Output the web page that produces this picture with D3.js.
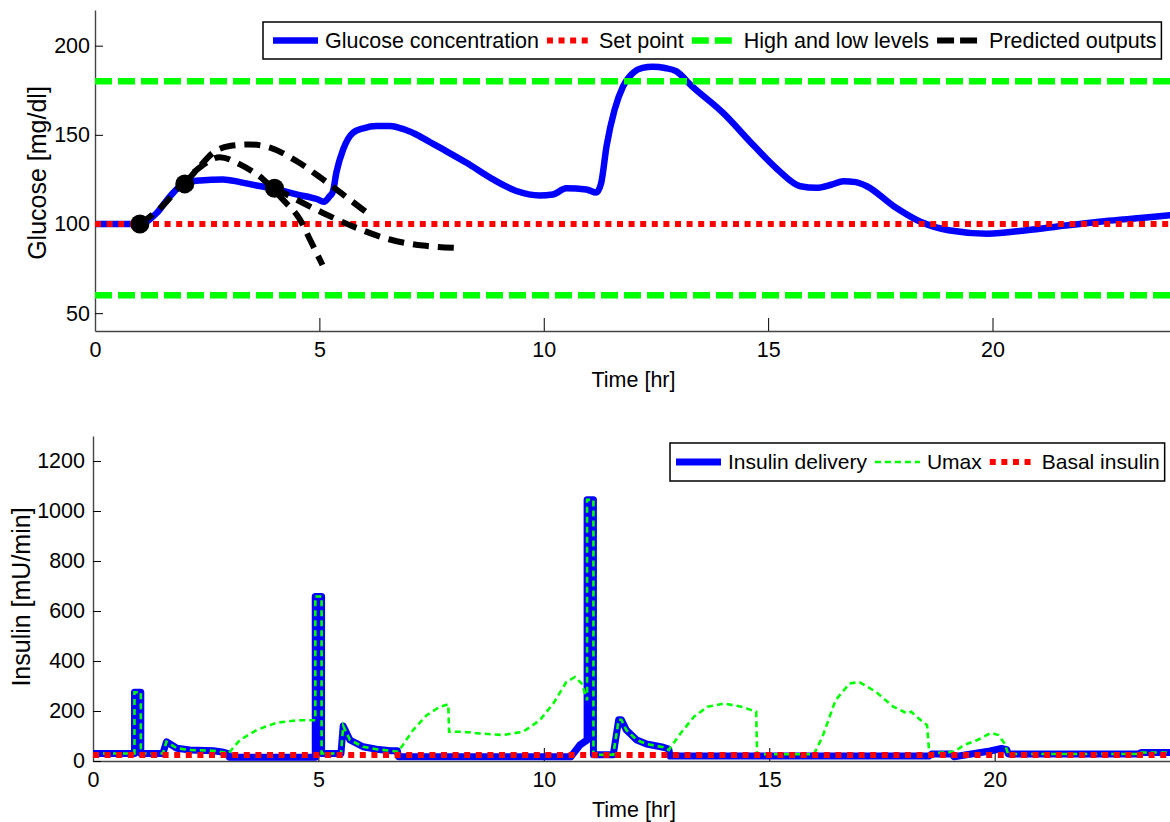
<!DOCTYPE html>
<html>
<head>
<meta charset="utf-8">
<script src="https://cdn.jsdelivr.net/npm/d3@7"></script>
<style>
  body { margin: 0; background: #fff; }
  text { font-family: 'Liberation Sans', Arial, sans-serif; }
</style>
</head>
<body>
<div id="app"></div>
<script>
// glucose trace [hr] / [mg/dl]
const glucoseT = [0, 1, 1.37, 1.67, 2.0, 2.34, 2.85, 3.23, 3.6, 3.97, 4.49, 4.94, 5.1, 5.23, 5.3, 5.38, 5.53, 5.75, 6.0, 6.27, 6.57, 6.9, 7.16, 7.46, 7.76, 8.28, 8.87, 9.39, 9.91, 10.2, 10.5, 10.95, 11.17, 11.28, 11.4, 11.58, 11.77, 11.99, 12.2, 12.43, 12.7, 12.95, 13.3, 13.99, 14.69, 15.21, 15.72, 16.08, 16.4, 16.68, 16.95, 17.2, 17.8, 18.42, 19.02, 19.89, 20.76, 21.63, 22.49, 23.36, 24]
const glucoseV = [100, 100, 106, 115.5, 123, 124.4, 125, 123.5, 121.6, 120, 116.6, 114, 112.5, 115.6, 118, 129, 141.8, 151.2, 153.8, 154.9, 155, 153, 150.2, 146, 141.8, 134.3, 125, 118.5, 116, 116.5, 120, 119.4, 117.6, 123, 143.7, 164.2, 177.3, 184.8, 187.5, 188.2, 187.5, 185.7, 177.3, 162.4, 143.7, 130.6, 121.2, 120.3, 122, 124, 123.5, 121.2, 110, 101, 96.5, 94.6, 96.5, 99.2, 101.6, 103.5, 105]

// predicted outputs, one per prediction time
const pred1T = [1, 1.5, 2.0, 2.4, 2.78, 3.23, 3.75, 4.19, 4.57, 4.79, 5.07]
const pred1V = [100, 110, 124, 133, 137.5, 133.4, 125, 113.6, 102.4, 91.3, 77]
const pred2T = [2, 2.34, 2.63, 3.0, 3.45, 3.9, 4.49, 5.08, 5.68, 6.08]
const pred2V = [122.5, 132.4, 140, 143.7, 144.6, 142.8, 135.3, 125, 113.6, 106]
const pred3T = [4, 4.34, 5.08, 5.83, 6.57, 7.31, 8.08]
const pred3V = [120, 115.6, 106.2, 97.8, 91.3, 87.9, 86.6]
const dotT = [1, 2, 4]
const dotV = [100, 122.5, 120]

const setPoint = 100
const limits = [180, 60]

// insulin delivery [mU/min]
const insT = [0, 0.92, 0.92, 1.06, 1.06, 1.55, 1.63, 1.86, 2.15, 2.67, 2.9, 3.0, 3.02, 4.93, 4.93, 5.07, 5.07, 5.5, 5.55, 5.7, 5.99, 6.29, 6.6, 6.75, 6.78, 10.6, 10.8, 10.96, 10.96, 11.1, 11.1, 11.54, 11.66, 11.72, 11.83, 12.06, 12.28, 12.65, 12.77, 12.8, 18.55, 18.6, 19.05, 19.1, 19.9, 20.15, 20.27, 20.3, 23.2, 23.25, 24]
const insV = [30, 30, 275, 275, 30, 30, 77, 51, 44, 41, 35, 30, 15, 15, 658, 658, 30, 30, 140, 84, 57, 47, 41, 41, 17, 17, 64, 84, 1045, 1045, 25, 25, 165, 165, 124, 84, 68, 55, 48, 20, 20, 28, 28, 17, 40, 50, 45, 28, 28, 34, 34]

// Umax
const umaxT = [0, 0.92, 0.92, 1.06, 1.06, 1.55, 1.63, 1.86, 2.15, 2.67, 2.9, 3.0, 3.26, 3.63, 4.07, 4.52, 4.88, 4.93, 4.93, 5.07, 5.07, 5.5, 5.55, 5.7, 5.99, 6.29, 6.6, 6.77, 7.1, 7.4, 7.69, 7.88, 7.9, 8.21, 8.58, 9.1, 9.54, 9.91, 10.21, 10.5, 10.69, 10.84, 10.96, 10.96, 11.1, 11.1, 11.54, 11.66, 11.72, 11.83, 12.06, 12.28, 12.65, 12.77, 13.03, 13.33, 13.63, 14.0, 14.38, 14.71, 14.73, 15.99, 16.18, 16.47, 16.78, 17.0, 17.37, 17.75, 17.95, 18.05, 18.15, 18.27, 18.5, 18.55, 19.1, 19.32, 19.62, 19.92, 20.08, 20.22, 20.3, 23.2, 23.25, 24]
const umaxV = [30, 30, 275, 275, 30, 30, 77, 51, 44, 41, 35, 30, 84, 124, 153, 163, 163, 163, 658, 658, 30, 30, 140, 84, 57, 47, 41, 37, 124, 183, 217, 227, 117, 117, 110, 104, 117, 163, 230, 316, 336, 310, 243, 1045, 1045, 25, 25, 165, 165, 124, 84, 68, 55, 44, 110, 177, 217, 230, 217, 197, 27, 27, 97, 243, 310, 316, 276, 217, 200, 190, 197, 177, 143, 30, 37, 64, 84, 113, 104, 70, 28, 28, 34, 34]

const basal = 24

const xTicks = [0, 5, 10, 15, 20]
const gTicks = [50, 100, 150, 200]
const iTicks = [0, 200, 400, 600, 800, 1000, 1200]

;(function (d3) {
  'use strict'

  const w = 1170
  const h = 822
  const fs = 21.5

  const svg = d3.select('#app').append('svg')
    .attr('width', w)
    .attr('height', h)

  const zip = (ts, vs) => ts.map((t, i) => [t, vs[i]])

  // scales
  const x1 = d3.scaleLinear().domain([0, 24]).range([95, 1172])
  const y1 = d3.scaleLinear().domain([40, 220]).range([331, 10])
  const x2 = d3.scaleLinear().domain([0, 24]).range([93, 1175])
  const y2 = d3.scaleLinear().domain([0, 1300]).range([761, 436])

  const drawAxes = function (xs, ys, yt, ypad, xlabel, ylabel, ylx, yly) {
    const gx = svg.append('g')
      .attr('transform', 'translate(0,' + ys.range()[0] + ')')
      .call(d3.axisBottom(xs).tickValues(xTicks).tickFormat(d3.format('d'))
        .tickSizeInner(-13).tickSizeOuter(0).tickPadding(11))
    const gy = svg.append('g')
      .attr('transform', 'translate(' + xs.range()[0] + ',0)')
      .call(d3.axisLeft(ys).tickValues(yt).tickFormat(d3.format('d'))
        .tickSizeInner(-8).tickSizeOuter(0).tickPadding(ypad))
    ;[gx, gy].forEach(function (g) {
      g.select('.domain').attr('stroke', '#444').attr('stroke-width', 1.4)
      g.selectAll('.tick line').attr('stroke', '#000')
      g.selectAll('.tick text').attr('fill', '#000')
        .style('font-size', fs + 'px')
        .style('font-family', "'Liberation Sans', Arial, sans-serif")
    })
    svg.append('text')
      .attr('x', (xs.range()[0] + xs.range()[1]) / 2)
      .attr('y', ys.range()[0] + 48)
      .attr('dy', '0.35em')
      .attr('text-anchor', 'middle')
      .style('font-size', fs + 'px')
      .text(xlabel)
    svg.append('text')
      .attr('transform', 'translate(' + ylx + ',' + yly + ') rotate(-90)')
      .attr('dy', '0.35em')
      .attr('text-anchor', 'middle')
      .style('font-size', '25px')
      .text(ylabel)
  }

  const legend = function (items, bx, by, bh, pad, tsize) {
    const g = svg.append('g')
    const box = g.append('rect')
      .attr('x', bx).attr('y', by).attr('height', bh)
      .attr('fill', '#fff').attr('stroke', '#000').attr('stroke-width', 1.5)
    let cx = bx + pad
    const cy = by + bh / 2
    items.forEach(function (it) {
      g.append('line')
        .attr('x1', cx).attr('x2', cx + 45).attr('y1', cy).attr('y2', cy)
        .attr('stroke', it.color).attr('stroke-width', it.width)
        .attr('stroke-dasharray', it.dash)
      cx += 45 + 7
      const t = g.append('text')
        .attr('x', cx).attr('y', cy).attr('dy', '0.35em')
        .style('font-size', tsize + 'px')
        .text(it.label)
      cx += t.node().getComputedTextLength() + 8
    })
    box.attr('width', cx - bx - 3)
  }

  // ---------- top: glucose ----------
  drawAxes(x1, y1, gTicks, 5, 'Time [hr]', 'Glucose [mg/dl]', 37, 173)

  const line1 = d3.line().x(d => x1(d[0])).y(d => y1(d[1]))

  svg.append('path')
    .datum(zip(glucoseT, glucoseV))
    .attr('d', line1.curve(d3.curveMonotoneX))
    .attr('fill', 'none').attr('stroke', '#0000ff').attr('stroke-width', 6.5)
    .attr('stroke-linejoin', 'round')

  svg.append('line')
    .attr('x1', x1(0)).attr('x2', x1(24)).attr('y1', y1(setPoint)).attr('y2', y1(setPoint))
    .attr('stroke', '#ff0000').attr('stroke-width', 6).attr('stroke-dasharray', '6,5.6')

  svg.selectAll('.lim').data(limits).enter().append('line')
    .attr('x1', x1(0)).attr('x2', x1(24))
    .attr('y1', d => y1(d)).attr('y2', d => y1(d))
    .attr('stroke', '#00ff00').attr('stroke-width', 6.5).attr('stroke-dasharray', '17,6')

  ;[zip(pred1T, pred1V), zip(pred2T, pred2V), zip(pred3T, pred3V)].forEach(function (p) {
    svg.append('path')
      .datum(p)
      .attr('d', line1.curve(d3.curveMonotoneX))
      .attr('fill', 'none').attr('stroke', '#000').attr('stroke-width', 6)
      .attr('stroke-dasharray', '16,9')
  })

  svg.selectAll('.dot').data(zip(dotT, dotV)).enter().append('circle')
    .attr('cx', d => x1(d[0])).attr('cy', d => y1(d[1])).attr('r', 9.5)
    .attr('fill', '#000')

  legend([
    { label: 'Glucose concentration', color: '#0000ff', width: 6.5, dash: null },
    { label: 'Set point', color: '#ff0000', width: 6, dash: '6,5.6' },
    { label: 'High and low levels', color: '#00ff00', width: 6.5, dash: '17,6' },
    { label: 'Predicted outputs', color: '#000', width: 6, dash: '17,6' }
  ], 263, 22, 37, 10, fs)

  // ---------- bottom: insulin ----------
  drawAxes(x2, y2, iTicks, 8, 'Time [hr]', 'Insulin [mU/min]', 21, 597)

  const line2 = d3.line().x(d => x2(d[0])).y(d => y2(d[1]))

  svg.append('path')
    .datum(zip(insT, insV))
    .attr('d', line2)
    .attr('fill', 'none').attr('stroke', '#0000ff').attr('stroke-width', 7)
    .attr('stroke-linejoin', 'round')

  svg.append('path')
    .datum(zip(umaxT, umaxV))
    .attr('d', line2)
    .attr('fill', 'none').attr('stroke', '#00ff00').attr('stroke-width', 2.6)
    .attr('stroke-dasharray', '6,4')

  svg.append('line')
    .attr('x1', x2(0)).attr('x2', x2(24)).attr('y1', y2(basal)).attr('y2', y2(basal))
    .attr('stroke', '#ff0000').attr('stroke-width', 6).attr('stroke-dasharray', '6,5.6')

  legend([
    { label: 'Insulin delivery', color: '#0000ff', width: 7, dash: null },
    { label: 'Umax', color: '#00ff00', width: 2.6, dash: '6,4' },
    { label: 'Basal insulin', color: '#ff0000', width: 6, dash: '6,5.6' }
  ], 670, 443, 38, 6, 21)
}(d3))
</script>
</body>
</html>
